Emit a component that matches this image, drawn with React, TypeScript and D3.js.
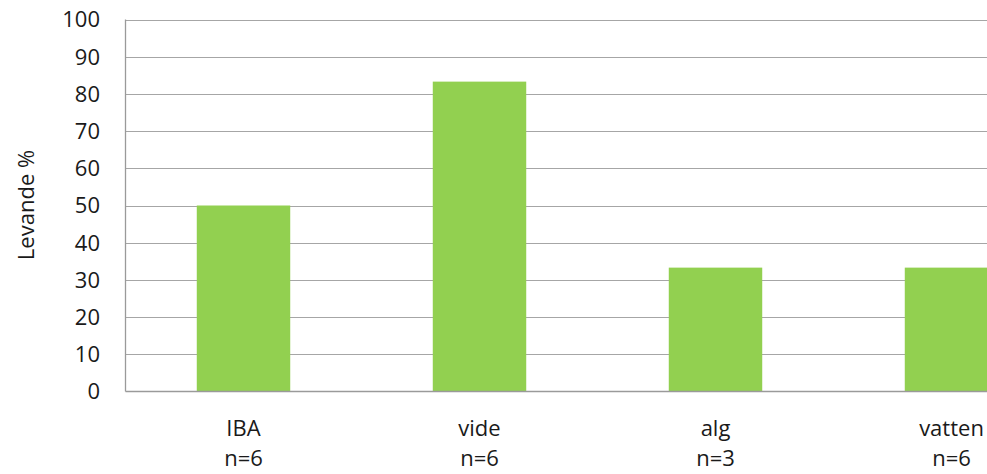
import React, { useEffect, useRef } from "react";
import * as d3 from "d3";

const categories = ["IBA", "vide", "alg", "vatten"];
const sampleSizes = ["n=6", "n=6", "n=3", "n=6"];
const values = [50, 83.3, 33.3, 33.3];
const yTicks = [0, 10, 20, 30, 40, 50, 60, 70, 80, 90, 100];
const yLabel = "Levande %";

const W = 987;
const H = 474;
const left = 125.5;
const step = 236;
const top = 19.5;
const bottom = 391.5;

export default function App() {
  const ref = useRef<SVGSVGElement>(null);
  useEffect(() => {
    const svg = d3.select(ref.current);
    svg.selectAll("*").remove();
    const font = "'Open Sans', sans-serif";
    const fs = 22;
    const x = d3
      .scaleBand<string>()
      .domain(categories)
      .range([left, left + step * categories.length])
      .paddingInner(0.604)
      .paddingOuter(0.302);
    const y = d3.scaleLinear().domain([0, 100]).range([bottom, top]);

    svg
      .append("g")
      .selectAll("line")
      .data(yTicks.filter((t) => t > 0))
      .join("line")
      .attr("x1", left)
      .attr("x2", W)
      .attr("y1", (d) => Math.round(y(d)) + 0.5)
      .attr("y2", (d) => Math.round(y(d)) + 0.5)
      .attr("stroke", "#a6a6a6")
      .attr("stroke-width", 1.2);

    svg
      .append("g")
      .selectAll("rect")
      .data(values)
      .join("rect")
      .attr("x", (_, i) => x(categories[i])!)
      .attr("width", x.bandwidth())
      .attr("y", (d) => y(d))
      .attr("height", (d) => bottom - y(d))
      .attr("fill", "#92d050");

    svg
      .append("line")
      .attr("x1", left)
      .attr("x2", left)
      .attr("y1", top)
      .attr("y2", bottom)
      .attr("stroke", "#9a9a9a")
      .attr("stroke-width", 1.3);
    svg
      .append("line")
      .attr("x1", left)
      .attr("x2", W)
      .attr("y1", bottom)
      .attr("y2", bottom)
      .attr("stroke", "#9a9a9a")
      .attr("stroke-width", 1.3);

    svg
      .append("g")
      .selectAll("text")
      .data(yTicks)
      .join("text")
      .attr("x", 100)
      .attr("y", (d) => y(d))
      .attr("dy", "0.36em")
      .attr("text-anchor", "end")
      .attr("font-family", font)
      .attr("font-size", fs)
      .attr("fill", "#1a1a1a")
      .text((d) => d);

    const xl = svg.append("g");
    categories.forEach((c, i) => {
      const cx = x(c)! + x.bandwidth() / 2;
      xl.append("text")
        .attr("x", cx)
        .attr("y", 436)
        .attr("text-anchor", "middle")
        .attr("font-family", font)
        .attr("font-size", fs)
        .attr("fill", "#1a1a1a")
        .text(c);
      xl.append("text")
        .attr("x", cx)
        .attr("y", 466)
        .attr("text-anchor", "middle")
        .attr("font-family", font)
        .attr("font-size", fs)
        .attr("fill", "#1a1a1a")
        .text(sampleSizes[i]);
    });

    svg
      .append("text")
      .attr("transform", `translate(34,205) rotate(-90)`)
      .attr("text-anchor", "middle")
      .attr("font-family", font)
      .attr("font-size", fs)
      .attr("fill", "#1a1a1a")
      .text(yLabel);
  }, []);
  return (
    <svg
      ref={ref}
      width={W}
      height={H}
      style={{ position: "absolute", left: 0, top: 0, background: "#fff" }}
    />
  );
}
